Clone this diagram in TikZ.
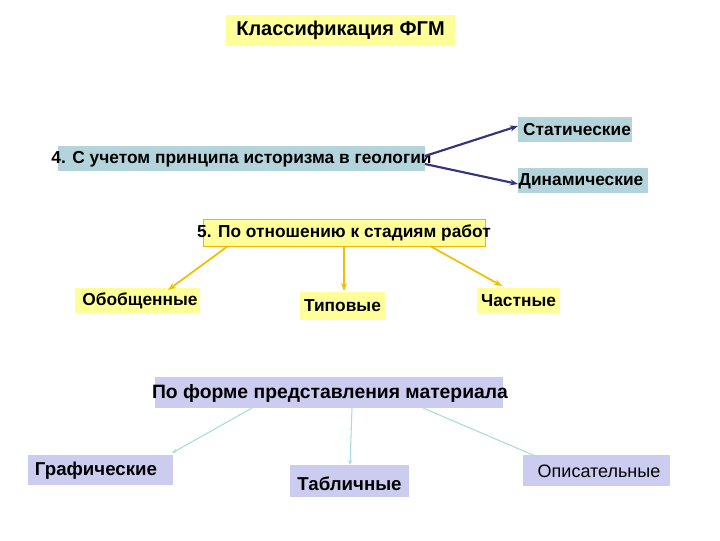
\documentclass[tikz,border=0pt]{standalone}
\usepackage{fontspec}
\setmainfont{Liberation Sans}
\usetikzlibrary{arrows.meta}
\definecolor{yel}{HTML}{FFFF99}
\definecolor{blu}{HTML}{B4D4DC}
\definecolor{lav}{HTML}{CCCCF0}
\definecolor{nav}{HTML}{33337F}
\definecolor{gold}{HTML}{F0C000}
\definecolor{cy}{HTML}{A8DCDC}
\begin{document}
\begin{tikzpicture}[x=0.75pt,y=-0.75pt,
 lab/.style={inner sep=0pt,font=\fontsize{#1}{14}\selectfont\bfseries},
 lab/.default=13,
 ya/.style={gold,line width=1.3pt,-{Stealth[length=6pt]}},
 na/.style={nav,line width=1.6pt,-{Stealth[length=6pt]}},
 ca/.style={cy,line width=0.8pt,-{Stealth[length=4pt]}}]
\useasboundingbox (0,0) rectangle (720,540);
% boxes
\fill[yel] (226,15) rectangle (455,46); \node[lab=15] (t) at (340.5,30.5) {Классификация ФГМ};
\fill[blu] (518,117) rectangle (632,142); \node[lab] (s) at (577,130) {Статические};
\fill[blu] (58,146) rectangle (425,171); \node[lab] (h) at (241.5,159) {4. С учетом принципа историзма в геологии};
\fill[blu] (518,168) rectangle (648,193); \node[lab] (d) at (581,181) {Динамические};
\filldraw[fill=yel,draw=gold!80!orange,line width=0.6pt] (203,219) rectangle (485,246); \node[lab] (p) at (344,233) {5. По отношению к стадиям работ};
\fill[yel] (75,288) rectangle (200,313); \node[lab] (o) at (140,301) {Обобщенные};
\fill[yel] (300,292) rectangle (385,320); \node[lab] (ty) at (342.5,306) {Типовые};
\fill[yel] (477,288) rectangle (560,313); \node[lab] (c) at (518.5,301) {Частные};
\fill[lav] (155,377) rectangle (503,408); \node[lab=14.5] (f) at (330,393) {По форме представления материала};
\fill[lav] (28,455) rectangle (173,485); \node[lab=14] (g) at (96,471) {Графические};
\fill[lav] (290,465) rectangle (409,497); \node[lab=14] (tb) at (349.5,484) {Табличные};
\fill[lav] (523,455) rectangle (670,486); \node[inner sep=0pt,font=\fontsize{13.5}{15}\selectfont] (op) at (599,471) {Описательные};
% arrows
\draw[na] (425,156) -- (518,126);
\draw[na] (425,164) -- (518,184);
\draw[ya] (228,246) -- (168,290);
\draw[ya] (344,246) -- (344,291);
\draw[ya] (430,246) -- (502,286);
\draw[ca] (252,408) -- (172,453);
\draw[ca] (352,408) -- (350,465);
\draw[cy,line width=0.8pt] (423,408) -- (540,458);
\end{tikzpicture}
\end{document}
